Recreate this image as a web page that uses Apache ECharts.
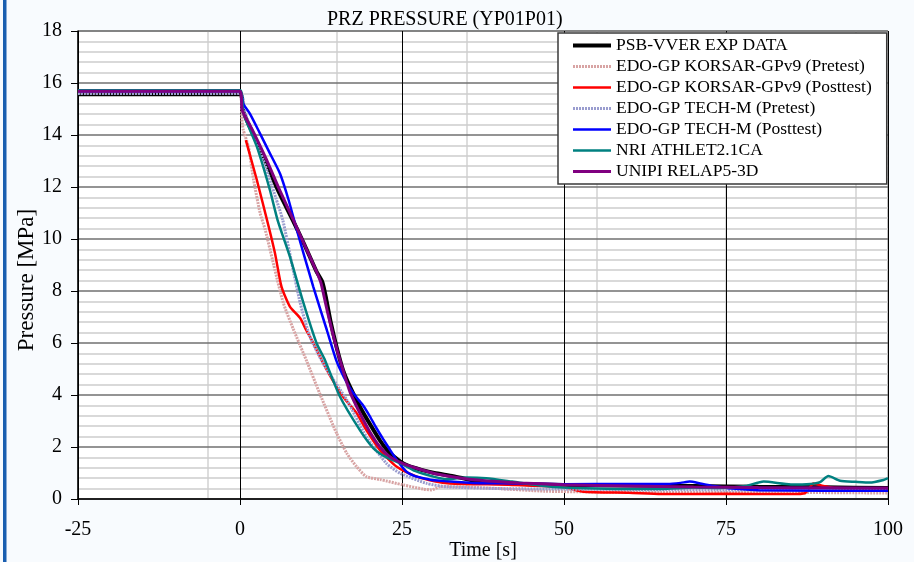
<!DOCTYPE html>
<html>
<head>
<meta charset="utf-8">
<script src="https://cdn.jsdelivr.net/npm/echarts@6/dist/echarts.min.js"></script>
<style>
  html, body { margin: 0; padding: 0; background: #f8fbfe; }
  #chart { width: 914px; height: 562px; }
</style>
</head>
<body>
<div id="chart"></div>
<script>
// Pressurizer pressure YP01P01, time in s, pressure in MPa
const xTicks = [-25, 0, 25, 50, 75, 100];
const yTicks = [0, 2, 4, 6, 8, 10, 12, 14, 16, 18];
const minorGridX = [-5, 15, 35, 55, 75, 95];

const seriesNames = [
  'PSB-VVER EXP DATA',
  'EDO-GP KORSAR-GPv9 (Pretest)',
  'EDO-GP KORSAR-GPv9 (Posttest)',
  'EDO-GP TECH-M (Pretest)',
  'EDO-GP TECH-M (Posttest)',
  'NRI ATHLET2.1CA',
  'UNIPI RELAP5-3D'
];

const expData = [
  [-25, 15.57], [-10, 15.57], [0, 15.57], [0.5, 14.9], [2, 14.05], [4, 12.95], [6, 11.8],
  [8.2, 10.7], [10, 9.75], [11.8, 8.75], [12.7, 8.35], [13.3, 7.7], [14, 6.8], [14.9, 5.85],
  [15.9, 4.96], [17, 4.3], [18.5, 3.55], [20, 2.9], [21.6, 2.25], [23, 1.8], [24.7, 1.45],
  [26, 1.27], [28, 1.12], [30, 1.0], [32.9, 0.88], [37, 0.67], [43, 0.58], [50, 0.54],
  [60, 0.52], [70, 0.5], [80, 0.47], [90, 0.45], [100, 0.42]
];

const korsarPre = [
  [-25, 15.62], [0, 15.62], [0.3, 14.6], [0.5, 14.2], [1.3, 13.55], [2.1, 12.27], [3.1, 11.0],
  [3.9, 10.35], [5.4, 8.8], [6.7, 7.53], [8.2, 6.55], [10.3, 5.3], [12.3, 4.06], [14.9, 2.53],
  [16.5, 1.75], [18, 1.24], [19.5, 0.86], [21.6, 0.75], [25.2, 0.54], [28.3, 0.38],
  [29.5, 0.35], [31, 0.48], [35, 0.46], [40, 0.4], [47, 0.3], [55, 0.27], [65, 0.25],
  [75, 0.25], [85, 0.25], [100, 0.23]
];

const korsarPost = [
  [0.9, 13.8], [2.6, 12.27], [4.4, 10.5], [5.4, 9.45], [6.4, 8.17], [7.7, 7.4], [9.3, 6.95],
  [10.1, 6.55], [11, 6.15], [12.5, 5.4], [14, 4.7], [16, 3.9], [18, 3.3], [19.5, 2.65],
  [21.6, 1.88], [24.2, 1.24], [27.3, 0.86], [30, 0.68], [32.4, 0.6], [42, 0.54], [50, 0.45],
  [53, 0.28], [60, 0.24], [65, 0.19], [75, 0.2], [85, 0.19], [87.2, 0.22], [88.5, 0.6],
  [90, 0.5], [92, 0.42], [100, 0.4]
];

const techPre = [
  [-25, 15.6], [0, 15.6], [0.8, 14.83], [3.6, 13.04], [5.5, 11.6], [6.6, 10.73], [8, 9.06],
  [9.3, 7.53], [10.8, 6.24], [13.1, 5.1], [16.5, 3.8], [19.5, 2.4], [22.6, 1.37], [24.7, 0.99],
  [28.8, 0.6], [31.9, 0.47], [40, 0.4], [50, 0.38], [60, 0.36], [75, 0.35], [100, 0.33]
];

const techPost = [
  [-25, 15.68], [0, 15.68], [0.5, 15.2], [1.5, 14.83], [3, 14.1], [4.5, 13.35], [6.2, 12.5],
  [7.5, 11.5], [8.6, 10.5], [9.8, 9.45], [11.3, 8.17], [13.4, 6.5], [14.9, 5.3], [16, 4.7],
  [17, 4.25], [18, 3.9], [19, 3.6], [20, 3.2], [21, 2.75], [22.1, 2.3], [23, 1.95],
  [24.2, 1.5], [25.7, 1.05], [27, 0.88], [28.3, 0.8], [30, 0.72], [36, 0.62], [42, 0.6],
  [50, 0.57], [60, 0.58], [66, 0.58], [68, 0.62], [69.4, 0.67], [71, 0.6], [73, 0.5],
  [76, 0.4], [80, 0.34], [90, 0.32], [100, 0.32]
];

const athlet = [
  [-25, 15.72], [0, 15.72], [0.5, 14.85], [2.6, 13.55], [4.6, 11.9], [5.8, 10.73], [7.7, 9.32],
  [9.8, 7.53], [11.8, 6.0], [13.1, 5.35], [15.4, 3.95], [18.5, 2.65], [20.6, 1.95],
  [22.6, 1.6], [25, 1.35], [27, 1.08], [30, 0.85], [32, 0.76], [35, 0.83], [38, 0.8],
  [42, 0.67], [47, 0.5], [50, 0.44], [55, 0.4], [60, 0.38], [65, 0.38], [70, 0.44],
  [74, 0.42], [78, 0.5], [80.8, 0.67], [85, 0.56], [88, 0.58], [89.5, 0.65], [90.8, 0.88],
  [92.6, 0.7], [95, 0.66], [97.2, 0.63], [99.3, 0.73], [100, 0.8]
];

const relap = [
  [-25, 15.68], [0, 15.68], [0.3, 15.0], [0.7, 14.75], [2, 14.15], [4, 13.1], [6, 11.95],
  [8.2, 10.75], [10, 9.75], [11.8, 8.75], [12.5, 8.3], [13.5, 7.2], [14.9, 5.8], [15.9, 4.95],
  [17, 4.1], [18.5, 3.3], [20, 2.6], [21.6, 2.0], [23, 1.65], [25, 1.38], [27, 1.2],
  [30, 0.98], [33, 0.85], [37, 0.72], [43, 0.62], [50, 0.55], [60, 0.5], [70, 0.46],
  [80, 0.44], [90, 0.43], [100, 0.42]
];

const seriesData = [expData, korsarPre, korsarPost, techPre, techPost, athlet, relap];

const FONT = '"Liberation Serif", "Times New Roman", serif';

const lineStyles = [
  { color: '#000000', width: 4, type: 'solid' },
  { color: '#d8a4a4', width: 3, type: [2, 1] },
  { color: '#ff0000', width: 2.5, type: 'solid' },
  { color: '#9a9dcf', width: 3, type: [2, 1] },
  { color: '#0000ff', width: 2.5, type: 'solid' },
  { color: '#008080', width: 2.5, type: 'solid' },
  { color: '#800080', width: 3, type: 'solid' }
];

const series = seriesNames.map((name, i) => ({
  name: name,
  type: 'line',
  data: seriesData[i],
  showSymbol: false,
  symbol: 'none',
  smooth: 0.2,
  color: lineStyles[i].color,
  lineStyle: lineStyles[i],
  z: 3 + i
}));

// light vertical grid lines between the major ones
series.push({
  name: 'minor-grid',
  type: 'line',
  data: [],
  silent: true,
  markLine: {
    silent: true,
    symbol: 'none',
    z: -1,
    animation: false,
    label: { show: false },
    lineStyle: { color: '#d2d2d2', width: 1.5, type: 'solid' },
    data: minorGridX.map(v => ({ xAxis: v }))
  }
});

const legendItems = seriesNames.map((name, i) => ({
  name: name,
  lineStyle: { width: lineStyles[i].width, type: lineStyles[i].type, color: lineStyles[i].color }
}));

const chart = echarts.init(document.getElementById('chart'), null, { renderer: 'canvas' });
chart.setOption({
  animation: false,
  backgroundColor: '#f8fbfe',
  textStyle: { fontFamily: FONT, color: '#000' },
  title: {
    text: 'PRZ PRESSURE (YP01P01)',
    left: 327,
    top: 10,
    padding: 0,
    textStyle: { fontFamily: FONT, fontSize: 20, fontWeight: 'normal', color: '#000' }
  },
  grid: {
    left: 78, right: 26, top: 31, bottom: 63,
    containLabel: false,
    outerBoundsMode: 'none',
    show: true, backgroundColor: '#ffffff', borderColor: '#808080', borderWidth: 1, z: -2
  },
  legend: {
    data: legendItems,
    orient: 'vertical',
    left: 558,
    top: 33,
    padding: [2, 15, 2, 13],
    itemGap: 0,
    itemWidth: 38,
    itemHeight: 10,
    itemStyle: { opacity: 0 },
    backgroundColor: '#ffffff',
    borderColor: '#3a3a3a',
    borderWidth: 1.5,
    textStyle: { fontFamily: FONT, fontSize: 17.5, lineHeight: 21, color: '#000' }
  },
  xAxis: {
    type: 'value',
    min: xTicks[0],
    max: xTicks[xTicks.length - 1],
    interval: 25,
    name: 'Time [s]',
    nameLocation: 'middle',
    nameMoveOverlap: false,
    nameGap: 42,
    nameTextStyle: { fontFamily: FONT, fontSize: 20, color: '#000' },
    axisLine: { show: true, onZero: false, lineStyle: { color: '#000', width: 1.5 } },
    axisTick: { show: true, inside: false, length: 6, lineStyle: { color: '#000', width: 1 } },
    axisLabel: { fontFamily: FONT, fontSize: 20, color: '#000', margin: 21 },
    splitLine: { show: true, lineStyle: { color: '#000', width: 1 } }
  },
  yAxis: {
    type: 'value',
    min: yTicks[0],
    max: yTicks[yTicks.length - 1],
    interval: 2,
    axisLine: { show: true, onZero: false, lineStyle: { color: '#000', width: 1.5 } },
    axisTick: { show: true, inside: false, length: 7, lineStyle: { color: '#000', width: 1 } },
    axisLabel: { fontFamily: FONT, fontSize: 20, color: '#000', margin: 16 },
    splitLine: { show: true, lineStyle: { color: '#707070', width: 1.5 } },
    minorTick: { show: false, splitNumber: 5 },
    minorSplitLine: { show: true, lineStyle: { color: '#cdcdcd', width: 1.5 } }
  },
  graphic: [
    {
      type: 'rect',
      left: 3, top: 0,
      shape: { width: 3.5, height: 562 },
      style: { fill: '#1a5fb0' },
      silent: true
    },
    {
      type: 'text',
      x: 27, y: 280,
      rotation: Math.PI / 2,
      style: {
        text: 'Pressure [MPa]',
        font: '23px ' + FONT,
        fill: '#000',
        align: 'center',
        verticalAlign: 'middle'
      },
      silent: true
    }
  ],
  series: series
});
</script>
</body>
</html>
